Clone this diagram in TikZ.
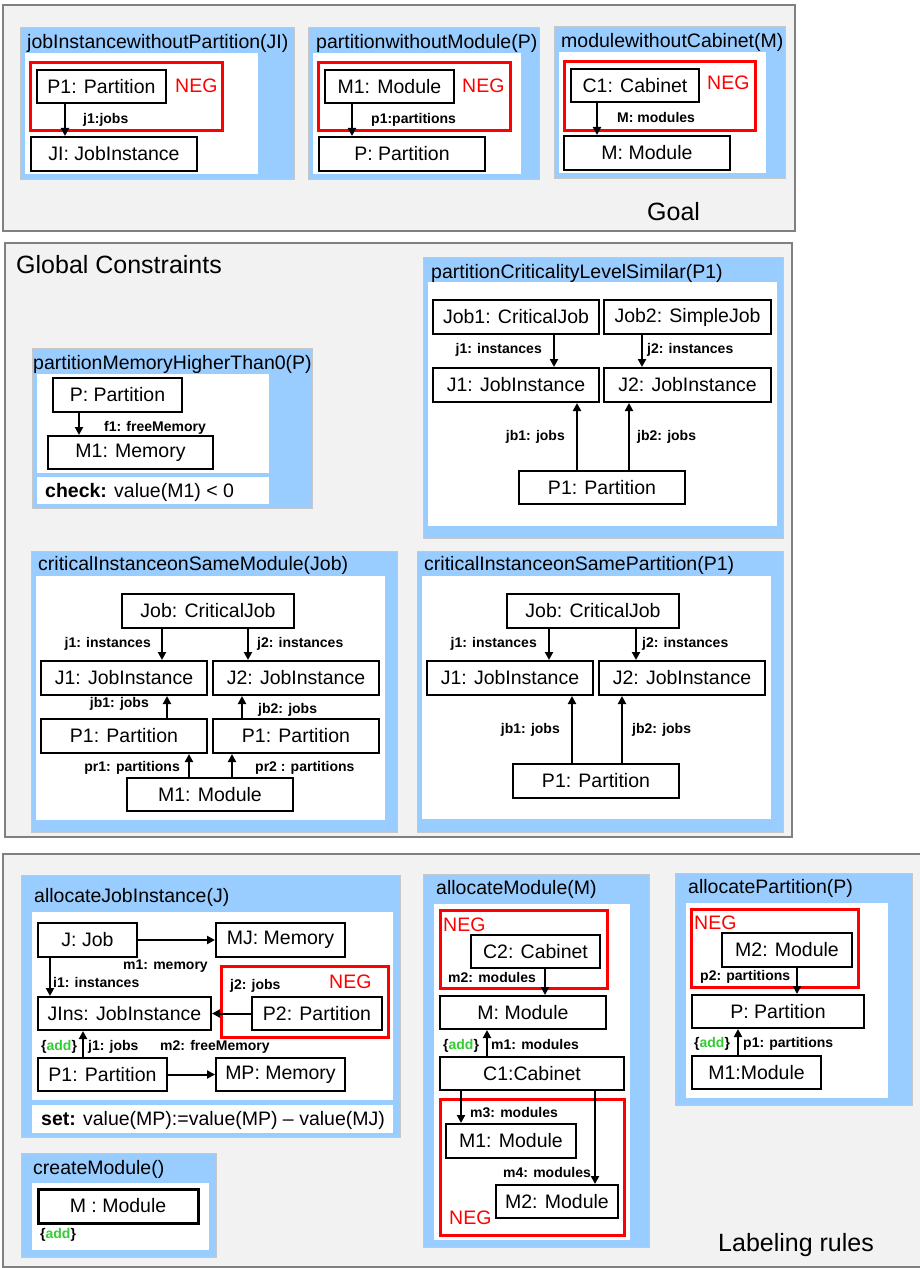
\documentclass[tikz,border=0pt]{standalone}
\usepackage{fontspec}
\setmainfont{Liberation Sans}
\usetikzlibrary{arrows.meta}
\definecolor{panelgray}{RGB}{242,242,242}
\definecolor{panelline}{RGB}{128,128,128}
\definecolor{ruleblue}{RGB}{153,204,255}
\definecolor{negred}{RGB}{255,0,0}
\definecolor{addgreen}{RGB}{51,204,51}

% object box: name, x1, y1, x2, y2, text (pixel-like units, y downwards)
\newcommand\objnode[7][]{%
  \pgfmathsetmacro\objW{#5-#3}\pgfmathsetmacro\objH{#6-#4}%
  \node[objbox,#1,minimum width=\objW pt,minimum height=\objH pt] (#2)
    at ({(#3+#5)/2},{(#4+#6)/2}) {#7};}
\newcommand\addtag{\{\textcolor{addgreen}{add}\}}

\begin{document}
\begin{tikzpicture}[x=1pt,y=-1pt,
  grp/.style={fill=panelgray,draw=panelline,line width=1.5pt},
  rulebox/.style={fill=ruleblue,draw=black!22,line width=1pt},
  rulebody/.style={fill=white},
  negbox/.style={draw=negred,line width=3pt},
  objbox/.style={draw=black,line width=2pt,fill=white,inner sep=0pt,
    font=\fontsize{19.5}{22}\selectfont},
  rtitle/.style={inner sep=0pt,anchor=west,font=\fontsize{19.5}{22}\selectfont},
  captxt/.style={inner sep=0pt,anchor=west,font=\fontsize{25}{28}\selectfont},
  plaintxt/.style={inner sep=0pt,anchor=west,font=\fontsize{19.5}{22}\selectfont},
  elabel/.style={inner sep=0pt,font=\fontsize{14}{16}\selectfont\bfseries,
    text height=10pt,text depth=3pt},
  negtext/.style={inner sep=0pt,anchor=west,text=negred,font=\fontsize{19.5}{22}\selectfont},
  link/.style={line width=2pt,-{Triangle[length=8pt,width=8pt]}},
]
\useasboundingbox (0,0) rectangle (919,1268);

%% ---------------- Goal ----------------
\draw[grp] (3,5) rectangle (795,231);
\node[captxt] (goal) at (647,212) {Goal};

% jobInstancewithoutPartition(JI)
\draw[rulebox] (20,28) rectangle (294,180);
\fill[rulebody] (25,53) rectangle (258,174);
\node[rtitle] (g1t) at (27,43) {jobInstancewithoutPartition(JI)};
\draw[negbox] (30,63) rectangle (222,131);
\objnode{g1p}{37}{70}{166}{103}{P1: Partition}
\node[negtext] (g1n) at (175,86) {NEG};
\objnode{g1j}{31}{137}{197}{171}{JI: JobInstance}
\draw[link] (65,0 |- g1p.south) -- (65,0 |- g1j.north);
\node[elabel,anchor=west] (g1l) at (83,120) {j1:jobs};

% partitionwithoutModule(P)
\draw[rulebox] (308,28) rectangle (539,180);
\fill[rulebody] (313,53) rectangle (521,174);
\node[rtitle] (g2t) at (316,43) {partitionwithoutModule(P)};
\draw[negbox] (318,63) rectangle (510,131);
\objnode{g2m}{325}{70}{454}{103}{M1: Module}
\node[negtext] (g2n) at (462,86) {NEG};
\objnode{g2p}{319}{137}{485}{171}{P: Partition}
\draw[link] (352,0 |- g2m.south) -- (352,0 |- g2p.north);
\node[elabel,anchor=west] (g2l) at (371,120) {p1:partitions};

% modulewithoutCabinet(M)
\draw[rulebox] (554,27) rectangle (785,179);
\fill[rulebody] (559,52) rectangle (766,173);
\node[rtitle] (g3t) at (561,42) {modulewithoutCabinet(M)};
\draw[negbox] (564,62) rectangle (755,131);
\objnode{g3c}{571}{69}{699}{102}{C1: Cabinet}
\node[negtext] (g3n) at (707,83) {NEG};
\objnode{g3m}{564}{136}{730}{170}{M: Module}
\draw[link] (597,0 |- g3c.south) -- (597,0 |- g3m.north);
\node[elabel,anchor=west] (g3l) at (617,119) {M: modules};

%% ---------------- Global Constraints ----------------
\draw[grp] (5,243) rectangle (792,837);
\node[captxt] (gc) at (16,265) {Global Constraints};

% partitionMemoryHigherThan0(P)
\draw[rulebox] (32,348) rectangle (312,508);
\fill[rulebody] (37,374) rectangle (269,473);
\fill[rulebody] (37,477) rectangle (269,504);
\node[rtitle] (c1t) at (33,364) {partitionMemoryHigherThan0(P)};
\objnode{c1p}{53}{378}{182}{412}{P: Partition}
\objnode{c1m}{48}{436}{213}{469}{M1: Memory}
\draw[link] (79,0 |- c1p.south) -- (79,0 |- c1m.north);
\node[elabel,anchor=west] (c1l) at (104,428) {f1: freeMemory};
\node[plaintxt] (c1c) at (45,492) {\textbf{check:} value(M1) < 0};

% partitionCriticalityLevelSimilar(P1)
\draw[rulebox] (423,257) rectangle (783,538);
\fill[rulebody] (428,282) rectangle (777,526);
\node[rtitle] (c2t) at (431,273) {partitionCriticalityLevelSimilar(P1)};
\objnode{c2a}{433}{300}{599}{334}{Job1: CriticalJob}
\objnode{c2b}{604}{300}{771}{334}{Job2: SimpleJob}
\objnode{c2i}{433}{368}{599}{402}{J1: JobInstance}
\objnode{c2k}{604}{368}{771}{402}{J2: JobInstance}
\objnode{c2p}{519}{471}{685}{504}{P1: Partition}
\draw[link] (554,0 |- c2a.south) -- (554,0 |- c2i.north);
\draw[link] (642,0 |- c2b.south) -- (642,0 |- c2k.north);
\draw[link] (577,0 |- c2p.north) -- (577,0 |- c2i.south);
\draw[link] (629,0 |- c2p.north) -- (629,0 |- c2k.south);
\node[elabel,anchor=east] (c2l1) at (542,350) {j1: instances};
\node[elabel,anchor=west] (c2l2) at (647,350) {j2: instances};
\node[elabel,anchor=east] (c2l3) at (565,437) {jb1: jobs};
\node[elabel,anchor=west] (c2l4) at (637,437) {jb2: jobs};

% criticalInstanceonSameModule(Job)
\draw[rulebox] (31,551) rectangle (397,832);
\fill[rulebody] (36,576) rectangle (385,820);
\node[rtitle] (c3t) at (38,565) {criticalInstanceonSameModule(Job)};
\objnode{c3j}{122}{594}{294}{628}{Job: CriticalJob}
\objnode{c3i}{41}{661}{207}{695}{J1: JobInstance}
\objnode{c3k}{213}{661}{379}{695}{J2: JobInstance}
\objnode{c3p}{41}{719}{207}{753}{P1: Partition}
\objnode{c3q}{213}{719}{379}{753}{P1: Partition}
\objnode{c3m}{127}{778}{293}{811}{M1: Module}
\draw[link] (162,0 |- c3j.south) -- (162,0 |- c3i.north);
\draw[link] (248,0 |- c3j.south) -- (248,0 |- c3k.north);
\draw[link] (167,0 |- c3p.north) -- (167,0 |- c3i.south);
\draw[link] (242,0 |- c3q.north) -- (242,0 |- c3k.south);
\draw[link] (189,0 |- c3m.north) -- (189,0 |- c3p.south);
\draw[link] (232,0 |- c3m.north) -- (232,0 |- c3q.south);
\node[elabel,anchor=east] (c3l1) at (151,644) {j1: instances};
\node[elabel,anchor=west] (c3l2) at (257,644) {j2: instances};
\node[elabel,anchor=east] (c3l3) at (149,704) {jb1: jobs};
\node[elabel,anchor=west] (c3l4) at (258,710) {jb2: jobs};
\node[elabel,anchor=east] (c3l5) at (180,768) {pr1: partitions};
\node[elabel,anchor=west] (c3l6) at (255,768) {pr2 : partitions};

% criticalInstanceonSamePartition(P1)
\draw[rulebox] (417,551) rectangle (783,832);
\fill[rulebody] (422,576) rectangle (771,819);
\node[rtitle] (c4t) at (424,565) {criticalInstanceonSamePartition(P1)};
\objnode{c4j}{507}{594}{679}{628}{Job: CriticalJob}
\objnode{c4i}{427}{661}{593}{695}{J1: JobInstance}
\objnode{c4k}{599}{661}{765}{695}{J2: JobInstance}
\objnode{c4p}{513}{764}{679}{798}{P1: Partition}
\draw[link] (549,0 |- c4j.south) -- (549,0 |- c4i.north);
\draw[link] (636,0 |- c4j.south) -- (636,0 |- c4k.north);
\draw[link] (572,0 |- c4p.north) -- (572,0 |- c4i.south);
\draw[link] (622,0 |- c4p.north) -- (622,0 |- c4k.south);
\node[elabel,anchor=east] (c4l1) at (537,644) {j1: instances};
\node[elabel,anchor=west] (c4l2) at (642,644) {j2: instances};
\node[elabel,anchor=east] (c4l3) at (560,730) {jb1: jobs};
\node[elabel,anchor=west] (c4l4) at (632,730) {jb2: jobs};

%% ---------------- Labeling rules ----------------
\draw[grp] (3,854) rectangle (925,1267);
\node[captxt] (lr) at (718,1245) {Labeling rules};

% allocateJobInstance(J)
\draw[rulebox] (21,875) rectangle (400,1137);
\fill[rulebody] (32,912) rectangle (393,1100);
\fill[rulebody] (32,1105) rectangle (393,1133);
\node[rtitle] (r1t) at (34,897) {allocateJobInstance(J)};
\objnode{r1j}{38}{923}{137}{957}{J: Job}
\objnode{r1mj}{216}{923}{345}{957}{MJ: Memory}
\draw[negbox] (221,966) rectangle (388,1037);
\node[negtext] (r1n) at (329,982) {NEG};
\objnode{r1ins}{38}{997}{211}{1030}{JIns: JobInstance}
\objnode{r1p2}{252}{997}{382}{1030}{P2: Partition}
\objnode{r1p1}{38}{1058}{167}{1091}{P1: Partition}
\objnode{r1mp}{216}{1058}{345}{1091}{MP: Memory}
\draw[link] (r1j.east) -- (r1mj.west);
\draw[link] (r1p2.west) -- (r1ins.east);
\draw[link] (r1p1.east) -- (r1mp.west);
\draw[link] (50,0 |- r1j.south) -- (50,0 |- r1ins.north);
\draw[link] (83,0 |- r1p1.north) -- (83,0 |- r1ins.south);
\node[elabel,anchor=west] (r1l1) at (123,966) {m1: memory};
\node[elabel,anchor=west] (r1l2) at (53,984) {i1: instances};
\node[elabel,anchor=west] (r1l3) at (230,986) {j2: jobs};
\node[elabel,anchor=west] (r1l4) at (41,1047) {\addtag};
\node[elabel,anchor=west] (r1l5) at (88,1047) {j1: jobs};
\node[elabel,anchor=west] (r1l6) at (160,1047) {m2: freeMemory};
\node[plaintxt] (r1s) at (41,1120) {\textbf{set:} value(MP):=value(MP) -- value(MJ)};

% createModule()
\draw[rulebox] (21,1153) rectangle (216,1257);
\fill[rulebody] (32,1183) rectangle (209,1250);
\node[rtitle] (r2t) at (33,1169) {createModule()};
\objnode[line width=3pt]{r2m}{38}{1189}{198}{1223}{M : Module}
\node[elabel,anchor=west] (r2a) at (40,1235) {\addtag};

% allocateModule(M)
\draw[rulebox] (423,874) rectangle (649,1247);
\fill[rulebody] (434,904) rectangle (630,1240);
\node[rtitle] (r3t) at (436,889) {allocateModule(M)};
\draw[negbox] (440,910) rectangle (607,988);
\node[negtext] (r3n1) at (443,925) {NEG};
\objnode{r3c2}{471}{935}{600}{968}{C2: Cabinet}
\objnode{r3m}{440}{996}{606}{1029}{M: Module}
\objnode{r3c1}{440}{1057}{624}{1090}{C1:Cabinet}
\draw[negbox] (440,1099) rectangle (624,1235);
\objnode{r3m1}{446}{1124}{576}{1158}{M1: Module}
\objnode{r3m2}{496}{1185}{618}{1218}{M2: Module}
\node[negtext] (r3n2) at (449,1218) {NEG};
\draw[link] (545,0 |- r3c2.south) -- (545,0 |- r3m.north);
\draw[link] (487,0 |- r3c1.north) -- (487,0 |- r3m.south);
\draw[link] (461,0 |- r3c1.south) -- (461,0 |- r3m1.north);
\draw[link] (595,0 |- r3c1.south) -- (595,0 |- r3m2.north);
\node[elabel,anchor=west] (r3l1) at (448,979) {m2: modules};
\node[elabel,anchor=west] (r3l2) at (443,1046) {\addtag};
\node[elabel,anchor=west] (r3l3) at (491,1046) {m1: modules};
\node[elabel,anchor=west] (r3l4) at (470,1114) {m3: modules};
\node[elabel,anchor=west] (r3l5) at (503,1174) {m4: modules};

% allocatePartition(P)
\draw[rulebox] (675,873) rectangle (912,1105);
\fill[rulebody] (686,903) rectangle (888,1098);
\node[rtitle] (r4t) at (688,888) {allocatePartition(P)};
\draw[negbox] (691,909) rectangle (858,987);
\node[negtext] (r4n) at (694,923) {NEG};
\objnode{r4m2}{722}{933}{852}{967}{M2: Module}
\objnode{r4p}{692}{995}{864}{1028}{P: Partition}
\objnode{r4m1}{692}{1056}{821}{1089}{M1:Module}
\draw[link] (797,0 |- r4m2.south) -- (797,0 |- r4p.north);
\draw[link] (738,0 |- r4m1.north) -- (738,0 |- r4p.south);
\node[elabel,anchor=west] (r4l1) at (700,977) {p2: partitions};
\node[elabel,anchor=west] (r4l2) at (694,1044) {\addtag};
\node[elabel,anchor=west] (r4l3) at (743,1044) {p1: partitions};
\end{tikzpicture}
\end{document}
